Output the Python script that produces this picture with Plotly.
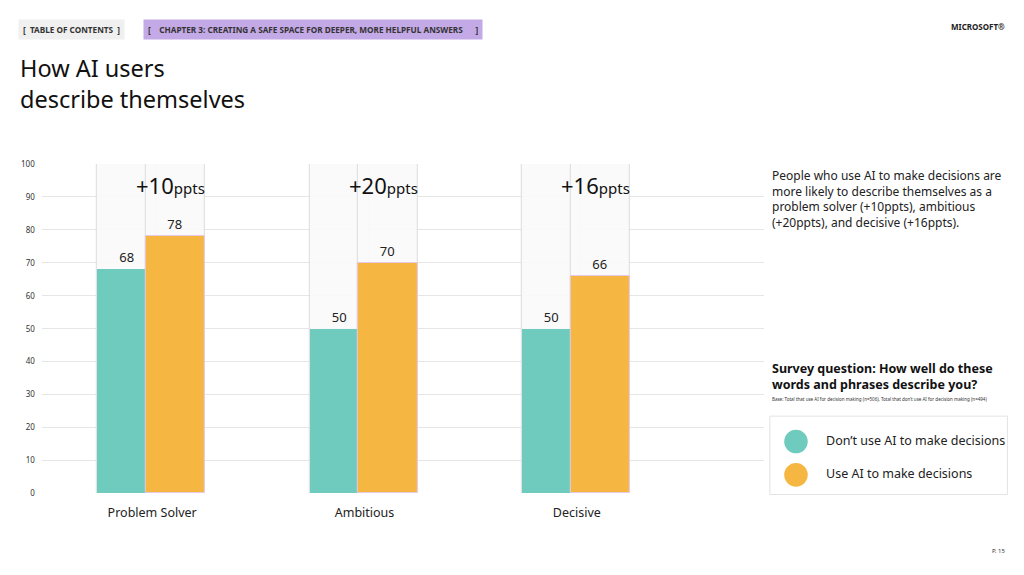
import plotly.graph_objects as go

categories = ['Problem Solver', 'Ambitious', 'Decisive']
dont_use_ai = [68, 50, 50]
use_ai = [78, 70, 66]
ppt_gain = ['+10', '+20', '+16']
panel_top = [100, 100, 100]
y_ticks = [0, 10, 20, 30, 40, 50, 60, 70, 80, 90, 100]

TEAL = '#6fcbbd'
ORANGE = '#f5b642'
FONT = 'Noto Sans'

fig = go.Figure()
xs = list(range(len(categories)))
# light backing panels
for off in (-0.26, -0.03):
    fig.add_trace(go.Bar(x=xs, y=panel_top, width=0.28, offset=off,
                         marker=dict(color='rgba(250,250,250,0.9)',
                                     line=dict(color='#dcdcdc', width=1)),
                         hoverinfo='skip', showlegend=False))
fig.add_trace(go.Bar(x=xs, y=dont_use_ai, width=0.28, offset=-0.26,
                     marker=dict(color=TEAL, line=dict(width=0)),
                     text=dont_use_ai, textposition='outside',
                     textfont=dict(size=13, color='#222', family=FONT),
                     cliponaxis=False, name="Don't use AI to make decisions",
                     showlegend=False))
fig.add_trace(go.Bar(x=xs, y=use_ai, width=0.28, offset=-0.03,
                     marker=dict(color=ORANGE, line=dict(color='#e8c9e6', width=1)),
                     text=use_ai, textposition='outside',
                     textfont=dict(size=13, color='#222', family=FONT),
                     cliponaxis=False, name='Use AI to make decisions',
                     showlegend=False))

ann = []
for i, g in enumerate(ppt_gain):
    ann.append(dict(x=i + 0.26, y=0.727, xref='x', yref='paper', xanchor='right',
                    showarrow=False,
                    text=f'<span style="font-size:22px">{g}</span><span style="font-size:15px">ppts</span>',
                    font=dict(family=FONT, color='#111')))

ann += [
    dict(x=0.01, y=0.992, xref='paper', yref='paper', showarrow=False, xanchor='left',
         text='<b>[  TABLE OF CONTENTS  ]</b>', font=dict(size=8.2, family=FONT, color='#333'),
         bgcolor='#f0f0f0', borderpad=4),
    dict(x=0.132, y=0.992, xref='paper', yref='paper', showarrow=False, xanchor='left',
         text='<b>[    CHAPTER 3: CREATING A SAFE SPACE FOR DEEPER, MORE HELPFUL ANSWERS      ]</b>',
         font=dict(size=8.2, family=FONT, color='#333'), bgcolor='#c3a9e6', borderpad=4),
    dict(x=0.976, y=0.992, xref='paper', yref='paper', showarrow=False, xanchor='right',
         text='<b>MICROSOFT®</b>', font=dict(size=8, family=FONT, color='#222')),
    dict(x=0.01, y=0.937, xref='paper', yref='paper', showarrow=False, xanchor='left',
         yanchor='top', align='left', text='How AI users<br>describe themselves',
         font=dict(size=23.5, family=FONT, color='#111')),
    dict(x=0.744, y=0.732, xref='paper', yref='paper', showarrow=False, xanchor='left',
         yanchor='top', align='left',
         text=('People who use AI to make decisions are<br>more likely to describe themselves as a<br>'
               'problem solver (+10ppts), ambitious<br>(+20ppts), and decisive (+16ppts).'),
         font=dict(size=12, family=FONT, color='#222')),
    dict(x=0.744, y=0.39, xref='paper', yref='paper', showarrow=False, xanchor='left',
         yanchor='top', align='left',
         text='<b>Survey question: How well do these<br>words and phrases describe you?</b>',
         font=dict(size=12.5, family=FONT, color='#111')),
    dict(x=0.744, y=0.327, xref='paper', yref='paper', showarrow=False, xanchor='left',
         yanchor='top', align='left',
         text='Base: Total that use AI for decision making (n=506), Total that don\u2019t use AI for decision making (n=494)',
         font=dict(size=4.5, family=FONT, color='#333')),
    dict(x=0.797, y=0.226, xref='paper', yref='paper', showarrow=False, xanchor='left',
         text='Don\u2019t use AI to make decisions', font=dict(size=12.5, family=FONT, color='#222')),
    dict(x=0.797, y=0.167, xref='paper', yref='paper', showarrow=False, xanchor='left',
         text='Use AI to make decisions', font=dict(size=12.5, family=FONT, color='#222')),
    dict(x=0.976, y=0.037, xref='paper', yref='paper', showarrow=False, xanchor='right',
         text='P. 15', font=dict(size=6, family=FONT, color='#333')),
]

shapes = [
    dict(type='rect', xref='paper', yref='paper', x0=0.744, x1=0.976, y0=0.148, y1=0.287,
         line=dict(color='#e3e3e3', width=1), fillcolor='white', layer='below'),
    dict(type='circle', xref='paper', yref='paper', x0=0.758, x1=0.781, y0=0.221, y1=0.263,
         fillcolor=TEAL, line=dict(width=0)),
    dict(type='circle', xref='paper', yref='paper', x0=0.758, x1=0.781, y0=0.162, y1=0.204,
         fillcolor=ORANGE, line=dict(width=0)),
]

fig.update_layout(
    width=1024, height=575, barmode='overlay', bargap=0,
    paper_bgcolor='white', plot_bgcolor='white',
    margin=dict(l=0, r=0, t=0, b=0),
    font=dict(family=FONT),
    xaxis=dict(domain=[0.033, 0.738], range=[-0.52, 2.88], tickvals=xs,
               ticktext=categories, tickfont=dict(size=12.5, color='#222'),
               showgrid=False, zeroline=False, ticks='', showline=False,
               ticklabelstandoff=10),
    yaxis=dict(domain=[0.15, 0.734], range=[0, 100], tickvals=y_ticks,
               tickfont=dict(size=8, color='#333'), gridcolor='#e6e6e6',
               zeroline=False, ticks='', ticklabelstandoff=6),
    annotations=ann, shapes=shapes,
)
fig.write_html('out.html')
